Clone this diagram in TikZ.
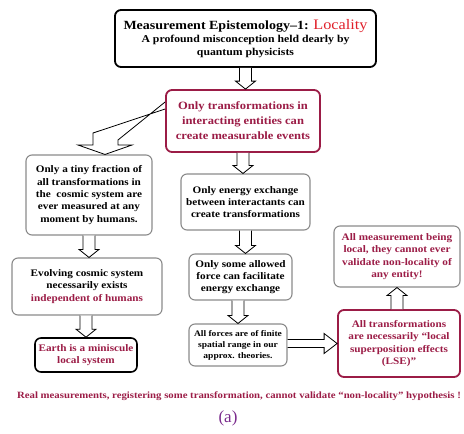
\documentclass[tikz,border=0pt]{standalone}
\usepackage{fontspec}
\setmainfont[FakeStretch=1.12]{Liberation Serif}
\newfontfamily\capfont{Liberation Serif}
\usetikzlibrary{calc}
\definecolor{crim}{HTML}{9B1C46}
\definecolor{tred}{HTML}{E0202A}
\definecolor{purp}{HTML}{7A2A8C}
\definecolor{gbord}{HTML}{8A8A8A}
\tikzset{
  box/.style={draw=gbord, line width=1.1pt, rounded corners=6pt, align=center, inner sep=1pt,
    font=\fontsize{10}{12.3}\selectfont\bfseries},
  cbox/.style={box, draw=crim, line width=1.8pt, text=crim},
  kbox/.style={box, draw=black, line width=1.6pt},
  blk/.style={draw=black, line width=0.8pt, fill=white, line join=miter},
}
\newcommand\downblock[2]{\draw[blk] let \p1=(#1), \p2=(#2) in
  (\x1-6pt,\y1) -- (\x1-6pt,\y2+8pt) -- (\x1-10pt,\y2+8pt) -- (\x1,\y2) -- (\x1+10pt,\y2+8pt) -- (\x1+6pt,\y2+8pt) -- (\x1+6pt,\y1);}
\newcommand\upblock[2]{\draw[blk] let \p1=(#1), \p2=(#2) in
  (\x1-6pt,\y1) -- (\x1-6pt,\y2-8pt) -- (\x1-10pt,\y2-8pt) -- (\x1,\y2) -- (\x1+10pt,\y2-8pt) -- (\x1+6pt,\y2-8pt) -- (\x1+6pt,\y1);}
\begin{document}
\begin{tikzpicture}[x=1pt,y=-1pt]
\useasboundingbox (0,0) rectangle (464,434);

\node[kbox, minimum width=261, minimum height=57, line width=1.8pt, font=\fontsize{10.5}{13}\selectfont\bfseries] (top) at (245.5,38.5)
  {{\fontsize{12.5}{13}\selectfont Measurement Epistemology–1: }{\fontsize{14.5}{14}\selectfont\mdseries\color{tred}Locality}\\[0pt]
   A profound misconception held dearly by\\ quantum physicists};

\node[cbox, minimum width=154, minimum height=62, font=\fontsize{11.2}{15}\selectfont\bfseries] (b2) at (243,121)
  {Only transformations in\\ interacting entities can\\ create measurable events};

\node[box, minimum width=126, minimum height=80] (l1) at (89,195)
  {Only a tiny fraction of\\ all transformations in\\ the\ \ cosmic system are\\ ever measured at any\\ moment by humans.};
\node[box, minimum width=150, minimum height=57] (l2) at (87,286.5)
  {Evolving cosmic system\\ necessarily exists\\ \textcolor{crim}{independent of humans}};
\node[kbox, minimum width=102, minimum height=34, text=crim] (l3) at (86,355)
  {Earth is a miniscule\\ local system};

\node[box, minimum width=129, minimum height=56] (m1) at (245.5,202)
  {Only energy exchange\\ between interactants can\\ create transformations};
\node[box, minimum width=103, minimum height=46] (m2) at (240.5,277)
  {Only some allowed\\ force can facilitate\\ energy exchange};
\node[box, minimum width=98, minimum height=42, font=\fontsize{8.5}{11}\selectfont\bfseries] (m3) at (238,345)
  {All forces are of finite\\ spatial range in our\\ approx. theories.};

\node[cbox, minimum width=122, minimum height=67] (lse) at (399,343.5)
  {All transformations\\ are necessarily “local\\ superposition effects\\ (LSE)”};
\node[box, minimum width=126, minimum height=61, text=crim] (r1) at (397,256.5)
  {All measurement being\\ local, they cannot ever\\ validate non-locality of\\ any entity!};

\node[text=crim, font=\fontsize{9.6}{10}\selectfont\bfseries, inner sep=0] (foot) at (239,396)
  {Real measurements, registering some transformation, cannot validate “non-locality” hypothesis !};
\node[text=purp, font=\capfont\fontsize{17}{18}\selectfont, inner sep=0] (cap) at (228,418) {(a)};

% arrows
\downblock{top.south}{b2.north}
\downblock{b2.south}{m1.north}
\downblock{m1.south}{m2.north}
\downblock{m2.south -| m3.north}{m3.north}
\downblock{l1.south}{l2.north}
\downblock{l2.south -| l3.north}{l3.north}
\upblock{lse.north -| r1.south}{r1.south}

% right arrow
\draw[blk] let \p1=(m3.east), \p2=(lse.west) in
  (\x1,\y2-4pt) -- (\x2-13pt,\y2-4pt) -- (\x2-13pt,\y2-10pt) -- (\x2,\y2) -- (\x2-13pt,\y2+10pt) -- (\x2-13pt,\y2+4pt) -- (\x1,\y2+4pt);

% bent arrow
\draw[blk] let \p1=(b2.west), \p2=(l1.north) in
  (\x1,\y1+12pt) -- (93,133) -- (93,145) -- (78,145) -- (105,\y2) -- (132,145) -- (118,145) -- (118,140) -- (\x1,\y1+19pt);
\end{tikzpicture}
\end{document}
